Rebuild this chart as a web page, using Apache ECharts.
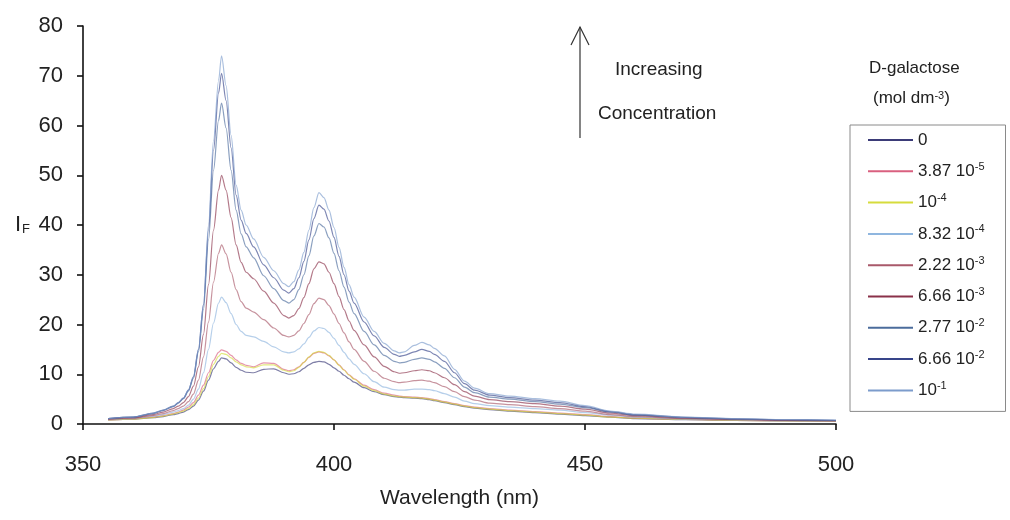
<!DOCTYPE html>
<html>
<head>
<meta charset="utf-8">
<script src="https://cdn.jsdelivr.net/npm/echarts@6/dist/echarts.min.js"></script>
<style>
  html, body { margin: 0; padding: 0; background: #ffffff; }
  #chart { width: 1010px; height: 520px; }
</style>
</head>
<body>
<div id="chart"></div>
<script>
// Emission wavelengths (nm) at which the fluorescence intensity was sampled
const wavelength = [355, 360, 364, 366, 368, 369, 370, 371, 372, 373, 374, 375, 376, 377, 377.6,
  378.5, 379.5, 380.5, 381.5, 382.5, 384, 386, 388, 390, 391, 392, 393, 394, 395, 396, 397, 398,
  399, 400, 401, 402, 403, 404, 406, 408, 410, 412, 413, 414, 416, 417.5, 419, 420, 422, 424, 426,
  428, 431, 435, 440, 445, 450, 455, 460, 470, 480, 490, 500];

// Fluorescence intensity I_F for each D-galactose concentration (mol dm-3)
const conc_0 = [0.8, 1.0, 1.3, 1.5, 1.9, 2.1, 2.4, 2.9, 3.6, 4.8, 6.6, 8.8, 11.1, 12.6, 13.3,
  13.1, 12.3, 11.4, 10.8, 10.4, 10.3, 11.0, 11.1, 10.3, 10.0, 10.1, 10.5, 11.2, 11.9, 12.4, 12.6, 12.5,
  12.0, 11.3, 10.6, 9.8, 9.1, 8.4, 7.3, 6.5, 5.9, 5.5, 5.4, 5.3, 5.2, 5.1, 4.9, 4.7, 4.3, 3.9, 3.5,
  3.2, 2.9, 2.6, 2.3, 2.0, 1.7, 1.4, 1.1, 0.85, 0.7, 0.6, 0.5];
const conc_387e6 = [0.8, 1.0, 1.4, 1.7, 2.1, 2.4, 2.8, 3.4, 4.3, 5.8, 7.8, 10.3, 12.8, 14.4, 14.9,
  14.6, 13.8, 12.9, 12.2, 11.8, 11.5, 12.3, 12.2, 11.0, 10.7, 10.9, 11.5, 12.4, 13.4, 14.2, 14.5, 14.3,
  13.7, 12.9, 11.9, 10.9, 9.9, 9.1, 7.8, 6.9, 6.2, 5.8, 5.6, 5.5, 5.4, 5.3, 5.1, 4.9, 4.5, 4.1, 3.7,
  3.4, 3.1, 2.8, 2.5, 2.2, 1.9, 1.5, 1.2, 0.9, 0.7, 0.6, 0.5];
const conc_1e4 = [0.8, 1.0, 1.3, 1.6, 2.0, 2.3, 2.6, 3.1, 3.9, 5.2, 7.1, 9.5, 12.0, 13.6, 14.2,
  14.0, 13.3, 12.5, 11.9, 11.5, 11.3, 11.9, 11.9, 10.8, 10.5, 10.7, 11.4, 12.4, 13.5, 14.3, 14.6, 14.4,
  13.8, 12.9, 11.8, 10.8, 9.8, 9.0, 7.6, 6.7, 6.0, 5.6, 5.5, 5.4, 5.3, 5.2, 5.0, 4.8, 4.4, 4.0, 3.6,
  3.3, 3.0, 2.7, 2.4, 2.1, 1.8, 1.4, 1.2, 0.9, 0.7, 0.6, 0.5];
const conc_832e4 = [0.9, 1.1, 1.6, 1.9, 2.4, 2.7, 3.1, 3.8, 5.0, 7.0, 10.3, 15.0, 20.3, 24.3, 25.5,
  24.4, 22.2, 20.0, 18.6, 17.8, 17.5, 16.6, 15.5, 14.5, 14.3, 14.5, 15.1, 16.1, 17.4, 18.7, 19.4, 19.2,
  18.4, 17.2, 15.8, 14.4, 13.1, 12.0, 10.1, 8.5, 7.4, 6.9, 6.8, 6.8, 7.0, 7.0, 6.9, 6.7, 6.1, 5.4, 4.6,
  4.1, 3.7, 3.4, 3.1, 2.8, 2.3, 1.8, 1.4, 1.0, 0.8, 0.65, 0.55];
const conc_222e3 = [0.9, 1.2, 1.7, 2.1, 2.7, 3.1, 3.6, 4.5, 6.0, 8.8, 13.5, 20.5, 28.5, 34.3, 36.0,
  34.2, 30.5, 27.0, 24.6, 23.3, 22.5, 21.0, 19.3, 17.8, 17.5, 17.8, 18.7, 20.2, 22.0, 24.2, 25.3, 25.0,
  23.8, 22.1, 20.2, 18.3, 16.5, 15.0, 12.6, 10.6, 9.2, 8.5, 8.3, 8.4, 8.7, 8.8, 8.6, 8.3, 7.5, 6.5, 5.5,
  4.8, 4.2, 3.9, 3.5, 3.1, 2.6, 1.9, 1.5, 1.1, 0.85, 0.7, 0.6];
const conc_666e3 = [1.0, 1.3, 1.9, 2.4, 3.1, 3.6, 4.3, 5.5, 7.6, 11.5, 18.0, 28.0, 39.0, 47.0, 50.0,
  47.0, 41.5, 36.0, 32.5, 30.5, 29.2, 26.7, 24.3, 21.8, 21.3, 21.8, 23.2, 25.4, 28.2, 31.2, 32.6, 32.2,
  30.5, 28.2, 25.6, 23.0, 20.7, 18.8, 15.9, 13.5, 11.6, 10.5, 10.2, 10.3, 10.7, 10.9, 10.7, 10.3, 9.3, 7.9, 6.5,
  5.6, 4.9, 4.5, 4.1, 3.6, 3.0, 2.2, 1.7, 1.2, 0.95, 0.75, 0.65];
const conc_277e2 = [1.1, 1.4, 2.1, 2.7, 3.5, 4.2, 5.1, 6.6, 9.2, 14.5, 23.0, 37.0, 51.0, 61.0, 64.5,
  59.5, 51.0, 43.0, 38.2, 35.6, 33.4, 29.8, 27.2, 24.8, 24.3, 25.0, 27.0, 30.0, 33.8, 37.8, 40.3, 39.6,
  37.4, 34.3, 30.8, 27.5, 24.5, 22.2, 18.6, 15.9, 13.8, 12.6, 12.3, 12.4, 13.0, 13.3, 13.0, 12.5, 11.2, 9.3, 7.4,
  6.3, 5.4, 5.0, 4.5, 4.0, 3.3, 2.4, 1.8, 1.3, 1.0, 0.8, 0.7];
const conc_666e2 = [1.1, 1.4, 2.2, 2.8, 3.6, 4.3, 5.2, 6.8, 9.5, 15.0, 24.0, 39.0, 55.0, 66.5, 70.5,
  65.0, 55.5, 46.0, 41.0, 38.3, 35.6, 32.0, 29.4, 26.9, 26.3, 27.2, 29.4, 32.7, 37.0, 41.3, 44.0, 43.2,
  40.8, 37.5, 33.7, 30.0, 26.7, 24.3, 20.5, 17.7, 15.4, 14.0, 13.6, 13.8, 14.5, 15.0, 14.6, 14.0, 12.6, 10.3, 8.1,
  6.8, 5.8, 5.3, 4.8, 4.3, 3.5, 2.5, 1.9, 1.35, 1.05, 0.85, 0.75];
const conc_1e1 = [1.1, 1.4, 2.2, 2.8, 3.6, 4.3, 5.2, 6.8, 9.5, 15.0, 24.0, 40.0, 57.0, 69.0, 74.0,
  68.0, 58.0, 48.0, 43.0, 40.0, 37.2, 33.5, 30.8, 28.2, 27.6, 28.6, 31.0, 34.5, 39.0, 43.5, 46.5, 45.5,
  43.0, 39.5, 35.5, 31.5, 28.0, 25.5, 21.5, 18.6, 16.2, 14.7, 14.3, 14.5, 15.8, 16.4, 15.9, 15.2, 13.7, 11.0, 8.6,
  7.2, 6.1, 5.6, 5.1, 4.6, 3.7, 2.6, 2.0, 1.4, 1.1, 0.9, 0.8];

// Legend labels (rich text, {sup|..} marks the exponent)
const concentrationLabels = ['0', '3.87 10{sup|-5}', '10{sup|-4}', '8.32 10{sup|-4}', '2.22 10{sup|-3}',
  '6.66 10{sup|-3}', '2.77 10{sup|-2}', '6.66 10{sup|-2}', '10{sup|-1}'];
const intensitySets = [conc_0, conc_387e6, conc_1e4, conc_832e4, conc_222e3, conc_666e3,
  conc_277e2, conc_666e2, conc_1e1];
const lineColors = ['#3b3b78', '#d9607f', '#d6dc3c', '#8fb6df', '#a9596a', '#8a3149',
  '#4b6c9c', '#38458a', '#7c9ccc'];

const xTicks = { min: 350, max: 500, interval: 50 };
const yTicks = { min: 0, max: 80, interval: 10 };

const FONT = '"Liberation Sans", Arial, sans-serif';

const chart = echarts.init(document.getElementById('chart'), null, { renderer: 'canvas' });

const series = intensitySets.map((vals, i) => ({
  name: concentrationLabels[i],
  type: 'line',
  data: wavelength.map((w, k) => [w, vals[k]]),
  symbol: 'none',
  smooth: 0.3,
  smoothMonotone: 'x',
  color: lineColors[i],
  lineStyle: { width: 1.2, color: lineColors[i], opacity: 0.65 },
  silent: true,
  z: 2 + i
}));

chart.setOption({
  backgroundColor: '#ffffff',
  animation: false,
  grid: { left: 83, top: 26, width: 753, height: 398, containLabel: false },
  xAxis: {
    type: 'value',
    min: xTicks.min, max: xTicks.max, interval: xTicks.interval,
    name: 'Wavelength (nm)',
    nameLocation: 'middle',
    nameGap: 64,
    nameTextStyle: { fontFamily: FONT, fontSize: 21, color: '#222' },
    axisLine: { lineStyle: { color: '#111', width: 1.6 } },
    axisTick: { show: true, length: 6, lineStyle: { color: '#111', width: 1.6 } },
    axisLabel: { fontFamily: FONT, fontSize: 22, color: '#222', margin: 30 },
    splitLine: { show: false }
  },
  yAxis: {
    type: 'value',
    min: yTicks.min, max: yTicks.max, interval: yTicks.interval,
    name: '{i|I}{sub|F}',
    nameLocation: 'middle',
    nameRotate: 0,
    nameGap: 53,
    nameTextStyle: {
      fontFamily: FONT, color: '#222',
      rich: {
        i: { fontFamily: FONT, fontSize: 22, color: '#222' },
        sub: { fontFamily: FONT, fontSize: 13, color: '#222', verticalAlign: 'bottom', padding: [8, 0, 0, 1] }
      }
    },
    axisLine: { show: true, lineStyle: { color: '#111', width: 1.6 } },
    axisTick: { show: true, length: 6, lineStyle: { color: '#111', width: 1.6 } },
    axisLabel: { fontFamily: FONT, fontSize: 22, color: '#222', margin: 20 },
    splitLine: { show: false }
  },
  legend: {
    orient: 'vertical',
    left: 850, top: 125,
    icon: 'rect',
    itemWidth: 45, itemHeight: 2, itemGap: 11.3,
    padding: [5, 21, 11, 18],
    borderColor: '#8a8a8a', borderWidth: 1,
    selectedMode: false,
    formatter: name => name,
    textStyle: {
      fontFamily: FONT, fontSize: 17, color: '#222', lineHeight: 20,
      rich: { sup: { fontFamily: FONT, fontSize: 11, color: '#222', verticalAlign: 'top', lineHeight: 12 } }
    },
    data: concentrationLabels
  },
  graphic: [
    // legend heading
    {
      type: 'text', left: 869, top: 60,
      style: { text: 'D-galactose', font: '17px ' + FONT, fill: '#222' }
    },
    {
      type: 'text', left: 873, top: 90,
      style: {
        text: '(mol dm{sup|-3})', font: '17px ' + FONT, fill: '#222',
        rich: { sup: { font: '11px ' + FONT, fill: '#222', verticalAlign: 'top', lineHeight: 12 } }
      }
    },
    // "increasing concentration" arrow
    {
      type: 'polyline', silent: true,
      shape: { points: [[580, 138], [580, 27]] },
      style: { stroke: '#333', lineWidth: 1.2, fill: null }
    },
    {
      type: 'polyline', silent: true,
      shape: { points: [[571, 45], [580, 27], [589, 45]] },
      style: { stroke: '#333', lineWidth: 1.2, fill: null }
    },
    {
      type: 'text', left: 615, top: 60,
      style: { text: 'Increasing', font: '19px ' + FONT, fill: '#222' }
    },
    {
      type: 'text', left: 598, top: 104,
      style: { text: 'Concentration', font: '19px ' + FONT, fill: '#222' }
    }
  ],
  series: series
});
</script>
</body>
</html>
